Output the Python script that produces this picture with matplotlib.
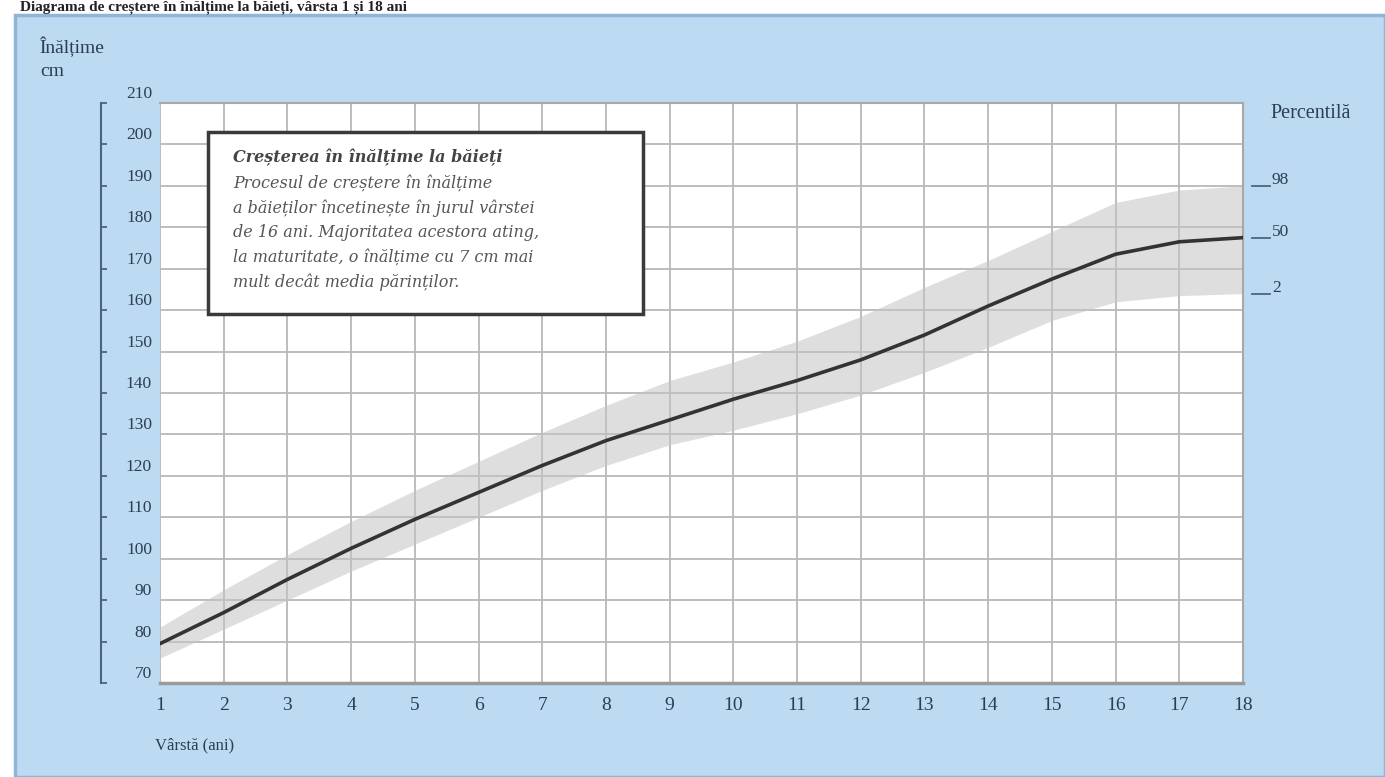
import matplotlib
matplotlib.use("Agg")
import matplotlib.pyplot as plt
from matplotlib.patches import Rectangle
from matplotlib.transforms import blended_transform_factory, ScaledTranslation

plt.rcParams['font.family'] = ['Liberation Serif', 'DejaVu Serif']

# ---------------- data ----------------
ages = list(range(1, 19))
p50 = [79.5, 87, 95, 102.5, 109.5, 116, 122.5, 128.5, 133.5, 138.5,
       143, 148, 154, 161, 167.5, 173.5, 176.5, 177.5]
p98 = [83.5, 92.5, 101, 109, 116.5, 123.5, 130.5, 137, 143, 147.5,
       152.5, 158.5, 165.5, 172, 179, 186, 189, 190]
p2 = [76, 83, 90, 97, 103.5, 110, 116.5, 122.5, 127.5, 131,
      135, 139.5, 145, 151, 157.5, 162, 163.5, 164]
yticks = list(range(70, 211, 10))
percentile_labels = ['98', '50', '2']

title_text = "Diagrama de creștere în înălțime la băieți, vârsta 1 și 18 ani"
ylabel_lines = ["Înălțime", "cm"]
xlabel_text = "Vârstă (ani)"
right_title = "Percentilă"
box_title = "Creșterea în înălțime la băieți"
box_lines = ["Procesul de creștere în înălțime",
             "a băieților încetinește în jurul vârstei",
             "de 16 ani. Majoritatea acestora ating,",
             "la maturitate, o înălțime cu 7 cm mai",
             "mult decât media părinților."]

W, H = 1385, 777
fig = plt.figure(figsize=(W / 100, H / 100), dpi=100)
fig.patch.set_facecolor('white')

def fx(px):
    return px / W

def fy(py):
    return 1 - py / H

TXT = '#2c3e52'
SERIF_W = ['DejaVu Serif']

# blue panel (background axes)
bg = fig.add_axes([0, 0, 1, 1], zorder=-5)
bg.set_xlim(0, 1)
bg.set_ylim(0, 1)
bg.axis('off')
bg.add_patch(Rectangle((fx(15), 0), fx(1385) - fx(15), fy(15),
                       facecolor='#bcdaf2', edgecolor='#8fb6d8', lw=2.5))
# title (cut at the top in the reference)
fig.text(fx(20), fy(7), title_text, fontsize=11, fontweight='bold', color='#222222',
         ha='left', va='center')

# axes
ax = fig.add_axes([fx(160), fy(683), fx(1243) - fx(160), fy(103) - fy(683)], zorder=1)
ax.set_facecolor('white')
ax.set_xlim(1, 18)
ax.set_ylim(70, 210)

ax.set_xticks(ages)
ax.set_xticklabels([str(a) for a in ages], fontsize=14, color=TXT)
ax.set_yticks(yticks)
ax.tick_params(axis='x', length=0, pad=10)
ax.tick_params(axis='y', direction='in', length=4, width=1.3, color='#4a6580',
               labelleft=False)
ax.grid(True, color='#b8b8b8', lw=1.3, zorder=0)
ax.set_axisbelow(True)

for s in ['top', 'right']:
    ax.spines[s].set_color('#a8a8a8')
    ax.spines[s].set_linewidth(1.5)
ax.spines['bottom'].set_color('#9a9a9a')
ax.spines['bottom'].set_linewidth(2.5)
ax.spines['left'].set_position(('outward', 59 * 0.72))
ax.spines['left'].set_color('#4a6580')
ax.spines['left'].set_linewidth(1.5)

# y tick labels (between spine and plot, slightly above ticks)
tr = blended_transform_factory(ax.transAxes, ax.transData) + \
    ScaledTranslation(0, 9 / 100, fig.dpi_scale_trans)
for v in yticks:
    ax.text((152 - 160) / (1243 - 160), v, str(v), transform=tr, ha='right', va='center',
            fontsize=12.5, color=TXT, clip_on=False)

# band and median
ax.fill_between(ages, p2, p98, color='#c4c4c4', alpha=0.55, lw=0, zorder=2)
ax.plot(ages, p50, color='#333333', lw=2.6, zorder=3)

# percentile labels on right
trr = blended_transform_factory(ax.transAxes, ax.transData)
for lab, val in zip(percentile_labels, [p98[-1], p50[-1], p2[-1]]):
    ax.plot([(1252 - 160) / 1083, (1270 - 160) / 1083], [val, val], transform=trr,
            color='#4a6580', lw=1.3, clip_on=False)
    ax.text((1272 - 160) / 1083, val, lab,
            transform=trr + ScaledTranslation(0, 6 / 100, fig.dpi_scale_trans),
            ha='left', va='center', fontsize=12.5, color=TXT, clip_on=False)

fig.text(fx(1270), fy(113), right_title, fontsize=14.5, color=TXT, ha='left', va='center')
fig.text(fx(40), fy(47), ylabel_lines[0], fontsize=14, color=TXT, ha='left', va='center')
fig.text(fx(40), fy(72), ylabel_lines[1], fontsize=14, color=TXT, ha='left', va='center')
fig.text(fx(155), fy(745), xlabel_text, fontsize=12, color=TXT, ha='left', va='center')

# annotation box
fig.patches.append(Rectangle((fx(208), fy(314)), fx(643) - fx(208), fy(132) - fy(314),
                             transform=fig.transFigure, facecolor='white',
                             edgecolor='#3a3a3a', lw=2.5, zorder=5))
fig.text(fx(233), fy(158), box_title, fontsize=11.5, fontstyle='italic', fontweight='bold',
         family=SERIF_W, color='#444444', ha='left', va='center', zorder=6)
for i, line in enumerate(box_lines):
    fig.text(fx(233), fy(184 + i * 24.5), line, fontsize=11.5, fontstyle='italic',
             family=SERIF_W, color='#555555', ha='left', va='center', zorder=6)

fig.savefig('out.png', dpi=100)
